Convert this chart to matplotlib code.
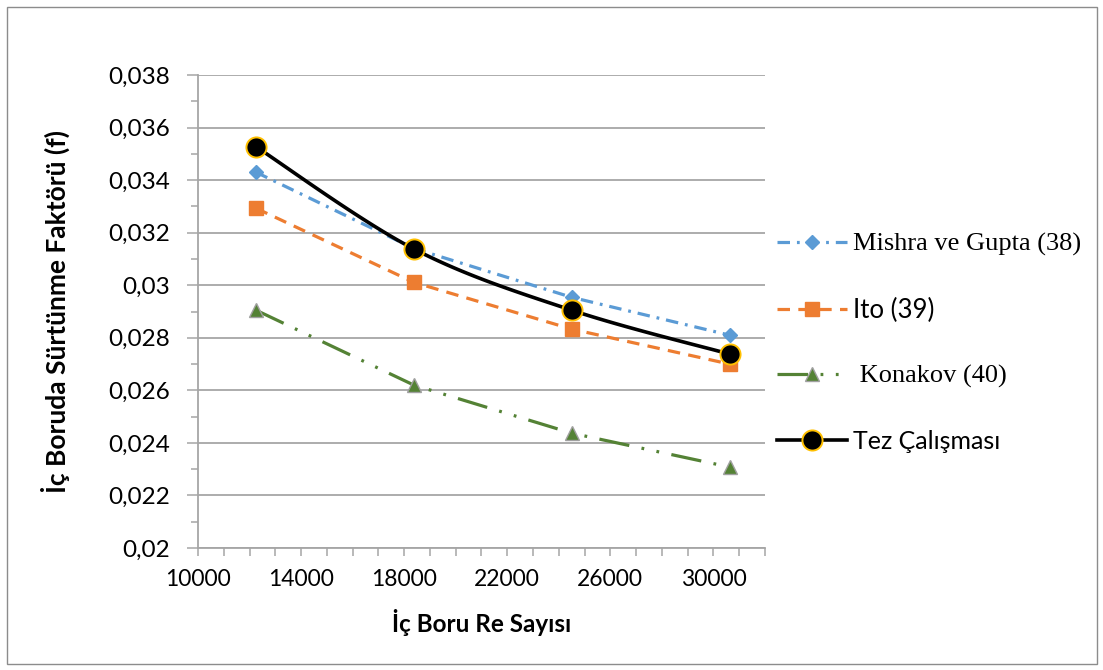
import numpy as np
import matplotlib
matplotlib.use("Agg")
import matplotlib.pyplot as plt
from matplotlib.patches import Rectangle
from matplotlib.lines import Line2D

plt.rcParams['lines.scale_dashes'] = False

# ---- data ----
re_values = [12250, 18375, 24500, 30625]
mishra = [0.0343, 0.0314, 0.02954, 0.0281]
ito = [0.03293, 0.03011, 0.02833, 0.0270]
konakov = [0.02905, 0.0262, 0.02437, 0.02308]
tez = [0.03527, 0.03138, 0.02905, 0.02738]

series_names = ["Mishra ve Gupta (38)", "Ito (39)", " Konakov (40)", "Tez Çalışması"]
x_ticks = list(range(10000, 32001, 1000))
x_tick_labels = [str(v) if (v - 10000) % 4000 == 0 else "" for v in x_ticks]
y_ticks = [0.020, 0.022, 0.024, 0.026, 0.028, 0.030, 0.032, 0.034, 0.036, 0.038]
y_tick_labels = ["0,02", "0,022", "0,024", "0,026", "0,028", "0,03", "0,032", "0,034", "0,036", "0,038"]
x_label = "İç Boru Re Sayısı"
y_label = "İç Boruda Sürtünme Faktörü (f)"

XMIN, XMAX = 10000, 32000
YMIN, YMAX = 0.020, 0.038

fig = plt.figure(figsize=(11.03, 6.70), dpi=100)
ax = fig.add_axes([198 / 1103, 1 - 548 / 670, (765 - 198) / 1103, (548 - 75) / 670])

# outer chart border
fig.patches.append(Rectangle((7 / 1103, 1 - 664 / 670), (1097 - 7) / 1103, (664 - 7) / 670,
                             transform=fig.transFigure, fill=False, edgecolor='#8c8c8c',
                             linewidth=1.0))

blue = '#5B9BD5'
orange = '#ED7D31'
green = '#548235'

def smooth(xs, ys, n=40):
    # Excel-like smoothed line (Catmull-Rom / cubic Bezier) in normalized space
    xs = np.asarray(xs, float); ys = np.asarray(ys, float)
    px = (xs - XMIN) / (XMAX - XMIN)
    py = (ys - YMIN) / (YMAX - YMIN)
    P = np.column_stack([px, py])
    P = np.vstack([P[0], P, P[-1]])
    out = []
    t = np.linspace(0, 1, n)[:, None]
    for i in range(1, len(P) - 2):
        p0, p1, p2, p3 = P[i - 1], P[i], P[i + 1], P[i + 2]
        c1 = p1 + (p2 - p0) / 6
        c2 = p2 - (p3 - p1) / 6
        seg = ((1 - t) ** 3) * p1 + 3 * ((1 - t) ** 2) * t * c1 + 3 * (1 - t) * t ** 2 * c2 + t ** 3 * p2
        out.append(seg)
    S = np.vstack(out)
    return S[:, 0] * (XMAX - XMIN) + XMIN, S[:, 1] * (YMAX - YMIN) + YMIN

# gridlines
for v in y_ticks:
    ax.axhline(v, color='#a6a6a6', linewidth=1.3, zorder=0)

l1, = ax.plot(re_values, mishra, color=blue, linewidth=2.3, dashes=(9, 5, 2, 5),
              marker='D', markersize=7.5, markerfacecolor=blue, markeredgecolor=blue, zorder=3)
l2, = ax.plot(re_values, ito, color=orange, linewidth=2.3, dashes=(9, 6),
              marker='s', markersize=10, markerfacecolor=orange, markeredgecolor=orange, zorder=3)
l3, = ax.plot(re_values, konakov, color=green, linewidth=2.3, dashes=(22, 9, 2, 9, 2, 9),
              marker='^', markersize=10, markerfacecolor=green, markeredgecolor='#a0a0a0',
              markeredgewidth=1.0, zorder=3)
sx, sy = smooth(re_values, tez)
ax.plot(sx, sy, color='black', linewidth=2.6, zorder=4)
ax.plot(re_values, tez, linestyle='none', marker='o', markersize=14.5, markerfacecolor='black',
        markeredgecolor='#FFC000', markeredgewidth=1.4, zorder=5)
l4 = Line2D([], [], color='black', linewidth=2.6, marker='o', markersize=14.5,
            markerfacecolor='black', markeredgecolor='#FFC000', markeredgewidth=1.4)

ax.set_xlim(XMIN, XMAX)
ax.set_ylim(YMIN, YMAX)
ax.set_xticks(x_ticks)
ax.set_xticklabels(x_tick_labels)
ax.set_yticks(y_ticks)
ax.set_yticklabels(y_tick_labels)
ax.set_yticks(np.arange(0.021, 0.038, 0.002), minor=True)

for s in ['top', 'right']:
    ax.spines[s].set_visible(False)
for s in ['left', 'bottom']:
    ax.spines[s].set_color('#a6a6a6')
    ax.spines[s].set_linewidth(1.3)
ax.tick_params(axis='x', which='major', length=6, width=1.1, color='#a6a6a6', direction='out',
               labelsize=16.5, pad=9)
ax.tick_params(axis='y', which='major', length=8, width=1.1, color='#a6a6a6', direction='out',
               labelsize=17.5, pad=12)
ax.tick_params(axis='y', which='minor', length=5, width=1.1, color='#a6a6a6', direction='out')
for lab in ax.get_xticklabels() + ax.get_yticklabels():
    lab.set_fontfamily('Lato')

ax.set_xlabel(x_label, fontfamily='Lato', fontweight='bold', fontsize=17.5)
ax.xaxis.set_label_coords(0.5, -(622 - 548) / (548 - 75), transform=ax.transAxes)
ax.xaxis.label.set_va('center')
ax.set_ylabel(y_label, fontfamily='Lato', fontweight='bold', fontsize=19)
ax.yaxis.set_label_coords(-(198 - 55) / (765 - 198), 0.5)
ax.yaxis.label.set_va('center')

leg = ax.legend([l1, l2, l3, l4], series_names, loc='center left',
                bbox_to_anchor=(767 / 1103, 1 - 343 / 670), bbox_transform=fig.transFigure,
                frameon=False, handlelength=2.8, handletextpad=0.25, labelspacing=1.68,
                fontsize=18, borderaxespad=0)
fonts = [('Liberation Serif', 19), ('Lato', 18.5), ('Liberation Serif', 19), ('Lato', 18)]
for t, (fam, sz) in zip(leg.get_texts(), fonts):
    t.set_fontfamily(fam)
    t.set_fontsize(sz)

fig.savefig('out.png', dpi=100)
